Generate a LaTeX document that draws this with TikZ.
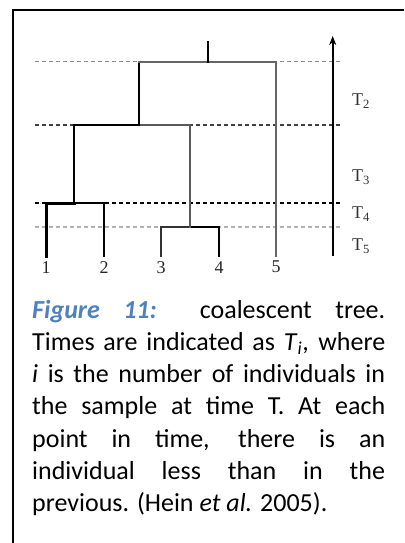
\documentclass[tikz,border=0pt]{standalone}
\usepackage{fontspec}
\setmainfont{Liberation Serif}
\newfontfamily\capfont{Carlito}
\usetikzlibrary{arrows.meta, positioning}
\definecolor{capblue}{HTML}{4F81BD}

\begin{document}
\begin{tikzpicture}[
    x=1pt, y=-1pt,
    >=Stealth,
    level/.style={dash pattern=on 4pt off 3pt, line width=1pt},
    branch/.style={line width=2.2pt, line cap=rect},
    leaf/.style={font=\fontsize{18}{20}\selectfont, text=black!85, inner sep=0pt},
    tlabel/.style={font=\fontsize{18}{20}\selectfont, text=black!80, inner sep=0pt,
                   anchor=west}
  ]
  \useasboundingbox (0,0) rectangle (404,543);

  % frame (right and bottom edges fall outside)
  \draw[line width=1.8pt] (13,543) -- (13,10) -- (404,10);

  % time levels
  \foreach \y/\col/\w in {61.7/black!45/1.1pt, 125/black!75/1.5pt,
                          203/black/2.2pt, 227/black!30/1.7pt}
    \draw[level, draw=\col, line width=\w] (35,\y) -- (340,\y);

  % tips and branch points
  \coordinate (a1) at (46,256);
  \coordinate (a2) at (104,256);
  \coordinate (a3) at (161,256);
  \coordinate (a4) at (219,256);
  \coordinate (a5) at (276,256);
  \coordinate (c12) at (74,203);
  \coordinate (c34) at (190,227);
  \coordinate (c1234) at (139,125);
  \coordinate (root) at (208,62);
  \coordinate (top) at (208,42);

  % tree
  \draw[branch, line width=3pt] (a1) |- (c12);
  \draw[branch, line width=2.2pt] (a2) |- (c12);
  \draw[branch, line width=2.8pt, draw=black!80] (a3) |- (c34);
  \draw[branch, line width=2.8pt] (a4) |- (c34);
  \draw[branch, line width=2.2pt] (c12) |- (c1234);
  \draw[branch, line width=2.5pt, draw=black!65] (c34) |- (c1234);
  \draw[branch, line width=1.4pt] (c1234) -- (c1234 |- root);
  \draw[branch, line width=2.3pt, draw=black!60] (c1234 |- root) -- (root);
  \draw[branch, line width=2.6pt, draw=black!60] (a5) |- (root);
  \draw[branch, line width=2pt] (root) -- (top);

  % time axis
  \coordinate (ax0) at (332.7,256);
  \coordinate (ax1) at (332.7,36);
  \draw[-{Stealth[length=9pt, width=7pt]}, line width=2.2pt] (ax0) -- (ax1);

  % leaf numbers
  \foreach \i in {1,...,5}
    \node[leaf, below=5pt of a\i] (l\i) {\i};

  % interval labels
  \node[tlabel] (t2) at (352,101) {T\textsubscript{2}};
  \node[tlabel] (t3) at (352,177) {T\textsubscript{3}};
  \node[tlabel] (t4) at (352,214) {T\textsubscript{4}};
  \node[tlabel] (t5) at (352,246) {T\textsubscript{5}};

  % caption
  \node[anchor=base west, inner sep=0pt, text width=353pt, align=justify,
        font=\capfont\fontsize{26}{32.3}\selectfont] (caption) at (32,318)
    {\textcolor{capblue}{\textbf{\textit{Figure 11:}}} coalescent tree.\linebreak
     Times are indicated as \textit{T}\textsubscript{\textit{i}}, where\linebreak
     \textit{i} is the number of individuals in\linebreak
     the sample at time T. At each\linebreak
     point in time, there is an\linebreak
     individual less than in the\linebreak
     previous. (Hein \textit{et al.} 2005).};
\end{tikzpicture}
\end{document}
